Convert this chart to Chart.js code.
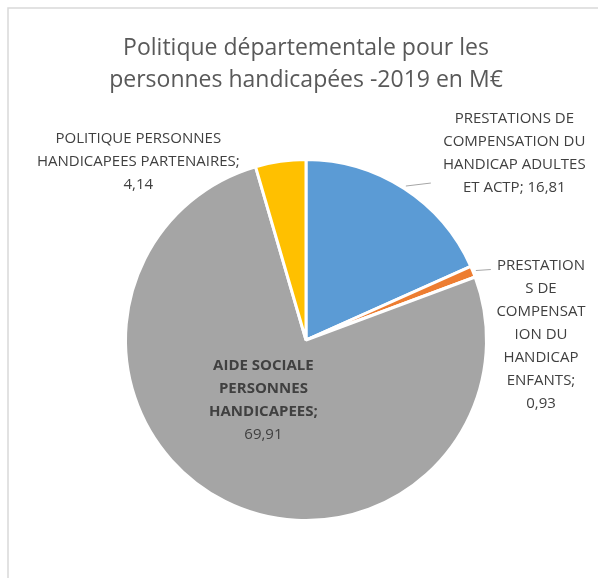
<!DOCTYPE html>
<html><head><meta charset="utf-8">
<script src="https://cdn.jsdelivr.net/npm/chart.js@4"></script>
<style>html,body{margin:0;padding:0;background:#fff;overflow:hidden}#wrap{width:598px;height:578px;position:relative}</style>
</head><body><div id="wrap"><canvas id="c" width="598" height="578"></canvas></div>
<script>
const titleLines = ["Politique départementale pour les", "personnes handicapées -2019 en M€"];
const categories = [
  "PRESTATIONS DE COMPENSATION DU HANDICAP ADULTES ET ACTP",
  "PRESTATIONS DE COMPENSATION DU HANDICAP ENFANTS",
  "AIDE SOCIALE PERSONNES HANDICAPEES",
  "POLITIQUE PERSONNES HANDICAPEES PARTENAIRES"
];
const values = [16.81, 0.93, 69.91, 4.14];
const colors = ["#5B9BD5", "#ED7D31", "#A5A5A5", "#FFC000"];
const labelLines = [
  ["PRESTATIONS DE", "COMPENSATION DU", "HANDICAP ADULTES", "ET ACTP"],
  ["PRESTATION", "S DE", "COMPENSAT", "ION DU", "HANDICAP", "ENFANTS"],
  ["AIDE SOCIALE", "PERSONNES", "HANDICAPEES"],
  ["POLITIQUE PERSONNES", "HANDICAPEES PARTENAIRES"]
];
const valueSameLine = [true, false, false, false];
const labelBold = [false, false, true, false];

// label placement (relative to pie centre, in radius units) and leader lines
const labelPos = [
  {dx: 1.154, dy: -1.033, leader: [25, -3]},
  {dx: 1.302, dy: -0.027, leader: [15, -1]},
  {dx: -0.236, dy: 0.335, leader: null},
  {dx: -0.929, dy: -0.989, leader: null}
];
const FONT = "'Open Sans', sans-serif";
const LABEL_SIZE = 15;
const LINE_H = 23;

function fmt(v) { return v.toFixed(2).replace('.', ','); }

const decor = {
  id: 'decor',
  beforeDraw(chart) {
    const ctx = chart.ctx;
    ctx.save();
    ctx.strokeStyle = '#D9D9D9';
    ctx.lineWidth = 1.5;
    ctx.strokeRect(8, 8, 800, 800);
    ctx.fillStyle = '#595959';
    ctx.font = "23px " + FONT;
    ctx.textAlign = 'center';
    ctx.textBaseline = 'middle';
    ctx.fillText(titleLines[0], 306, 48);
    ctx.fillText(titleLines[1], 306, 80);
    ctx.restore();
  },
  afterDraw(chart) {
    const ctx = chart.ctx;
    const meta = chart.getDatasetMeta(0);
    ctx.save();
    meta.data.forEach((arc, i) => {
      const p = arc.getProps(['x', 'y', 'startAngle', 'endAngle', 'outerRadius']);
      const r = p.outerRadius;
      const mid = (p.startAngle + p.endAngle) / 2;
      const pos = labelPos[i];
      if (pos.leader) {
        const sx = p.x + Math.cos(mid) * (r + 3);
        const sy = p.y + Math.sin(mid) * (r + 3);
        ctx.strokeStyle = '#A6A6A6';
        ctx.lineWidth = 1;
        ctx.beginPath();
        ctx.moveTo(sx, sy);
        ctx.lineTo(sx + pos.leader[0], sy + pos.leader[1]);
        ctx.stroke();
      }
      const lines = labelLines[i].slice();
      const val = fmt(values[i]);
      const boldCount = labelBold[i] ? lines.length : 0;
      if (valueSameLine[i]) lines[lines.length - 1] += '; ' + val;
      else { lines[lines.length - 1] += ';'; lines.push(val); }
      const cx = p.x + pos.dx * r;
      const cy = p.y + pos.dy * r;
      const y0 = cy - (lines.length - 1) * LINE_H / 2;
      ctx.fillStyle = '#404040';
      ctx.textAlign = 'center';
      ctx.textBaseline = 'middle';
      lines.forEach((t, k) => {
        ctx.font = (k < boldCount ? 'bold ' : '') + LABEL_SIZE + 'px ' + FONT;
        ctx.fillText(t, cx, y0 + k * LINE_H);
      });
    });
    ctx.restore();
  }
};

new Chart(document.getElementById('c'), {
  type: 'pie',
  data: {
    labels: categories,
    datasets: [{
      data: values,
      backgroundColor: colors,
      borderColor: '#FFFFFF',
      borderWidth: 3
    }]
  },
  options: {
    responsive: false,
    animation: false,
    layout: {padding: {top: 158, bottom: 56, left: 124, right: 110}},
    plugins: {legend: {display: false}, title: {display: false}, tooltip: {enabled: false}}
  },
  plugins: [decor]
});
</script></body></html>
